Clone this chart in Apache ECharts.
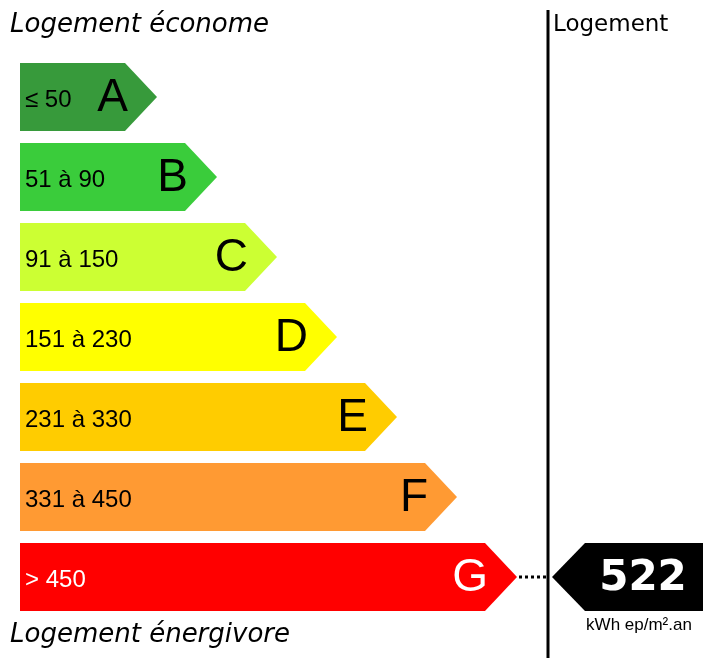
<!DOCTYPE html>
<html><head><meta charset="utf-8">
<script src="https://cdn.jsdelivr.net/npm/echarts@6/dist/echarts.min.js"></script>
<style>html,body{margin:0;padding:0;background:#fff}#c{width:714px;height:672px}</style>
</head><body><div id="c"></div>
<script>
// classes DPE
const letters = ['A', 'B', 'C', 'D', 'E', 'F', 'G'];
const ranges = ['≤ 50', '51 à 90', '91 à 150', '151 à 230', '231 à 330', '331 à 450', '> 450'];
const colors = ['#379a3b', '#3acc3b', '#ccff33', '#ffff00', '#ffcc00', '#ff9a33', '#ff0000'];
const value = 522;
const valueClass = 6; // G

const chart = echarts.init(document.getElementById('c'));

// pixel-like axes: 1 unit = 1px
function rowY(i) { return 63 + i * 80; }

chart.setOption({
  animation: false,
  grid: { left: 0, right: 0, top: 0, bottom: 0 },
  xAxis: { type: 'value', min: 0, max: 714, show: false },
  yAxis: { type: 'value', min: 0, max: 672, inverse: true, show: false },
  graphic: [
    { type: 'text', left: 10, top: 12, style: { text: 'Logement économe', font: 'italic 26px "DejaVu Sans"', fill: '#000' } },
    { type: 'text', left: 10, top: 622, style: { text: 'Logement énergivore', font: 'italic 26px "DejaVu Sans"', fill: '#000' } },
    { type: 'text', left: 553, top: 14, style: { text: 'Logement', font: '23px "DejaVu Sans"', fill: '#000' } },
    { type: 'line', shape: { x1: 548, y1: 10, x2: 548, y2: 658 }, style: { stroke: '#000', lineWidth: 3 } }
  ],
  series: [{
    type: 'custom',
    data: letters.map((l, i) => [i]),
    renderItem: function (params, api) {
      const i = api.value(0);
      const y0 = rowY(i), h = 68;
      const end = 125 + 60 * i, tip = end + 32;
      const p = (x, y) => api.coord([x, y]);
      const white = i === 6;
      const children = [
        { type: 'polygon', shape: { points: [p(20, y0), p(end, y0), p(tip, y0 + h / 2), p(end, y0 + h), p(20, y0 + h)] }, style: { fill: colors[i] } },
        { type: 'text', x: p(25, 0)[0], y: p(0, y0 + h / 2 + 3)[1], style: { text: ranges[i], font: '24px "Liberation Sans"', fill: white ? '#fff' : '#000', verticalAlign: 'middle', align: 'left' } },
        { type: 'text', x: p(end + 3, 0)[0], y: p(0, y0 + h / 2 + 1)[1], style: { text: letters[i], font: '46px "Liberation Sans"', fill: white ? '#fff' : '#000', verticalAlign: 'middle', align: 'right' } }
      ];
      if (i === valueClass) {
        const cy = y0 + h / 2;
        children.push(
          { type: 'line', shape: { x1: p(tip + 2, 0)[0], y1: p(0, cy)[1], x2: p(546, 0)[0], y2: p(0, cy)[1] }, style: { stroke: '#000', lineWidth: 3, lineDash: [3, 3] } },
          { type: 'polygon', shape: { points: [p(552, cy), p(585, y0), p(703, y0), p(703, y0 + h), p(585, y0 + h)] }, style: { fill: '#000' } },
          { type: 'text', x: p(643, 0)[0], y: p(0, cy + 2)[1], style: { text: String(value), font: 'bold 42px "DejaVu Sans"', fill: '#fff', align: 'center', verticalAlign: 'middle' } },
          { type: 'text', x: p(639, 0)[0], y: p(0, y0 + h + 14)[1], style: { text: 'kWh ep/m².an', font: '17px "Liberation Sans"', fill: '#000', align: 'center', verticalAlign: 'middle' } }
        );
      }
      return { type: 'group', children: children };
    }
  }]
});
</script></body></html>
